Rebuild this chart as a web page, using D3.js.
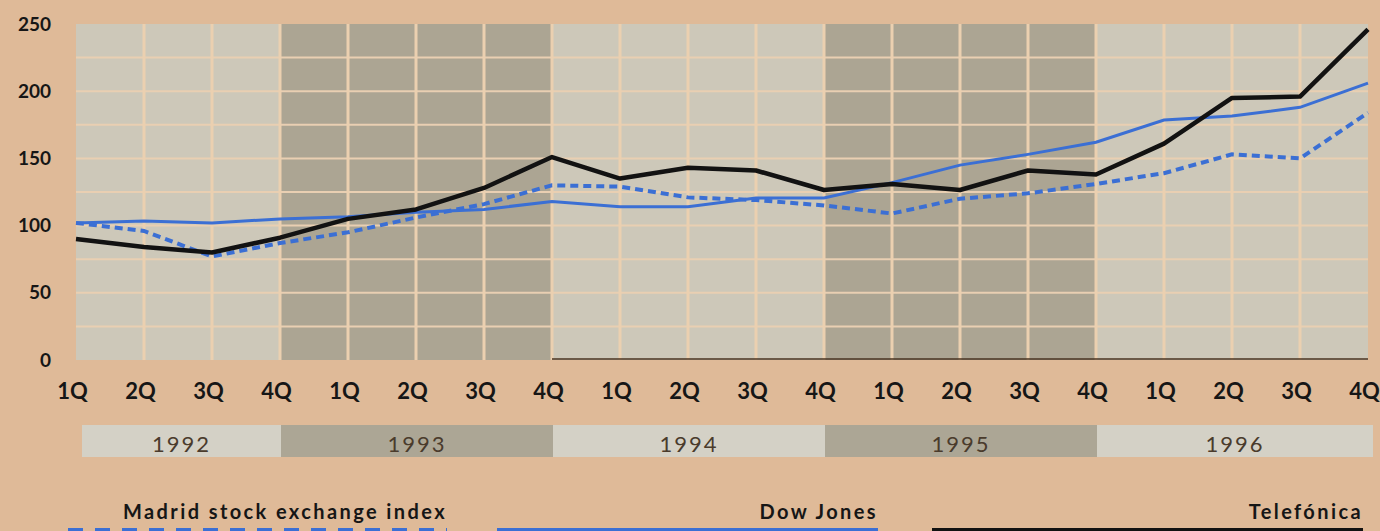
<!DOCTYPE html>
<meta charset="utf-8">
<style>
  body { margin: 0; background: #dfba98; }
  svg { display: block; }
  .tick text { font-family: Lato, sans-serif; font-weight: bold; fill: #161616; }
</style>
<body>
<script src="https://d3js.org/d3.v7.min.js"></script>
<script>

// quarters 1992-1996
var quarters = ["1Q","2Q","3Q","4Q","1Q","2Q","3Q","4Q","1Q","2Q","3Q","4Q","1Q","2Q","3Q","4Q","1Q","2Q","3Q","4Q"];
var years = ["1992", "1993", "1994", "1995", "1996"];

// index values
var madrid     = [102, 96, 77, 87, 95, 106, 116, 130, 129, 121, 119, 115, 109, 120, 124, 131, 139, 153, 150, 184];
var dowJones   = [102, 103.5, 102, 105, 106.5, 110, 112, 118, 114, 114, 120.5, 120.5, 132, 145, 153, 162, 178.5, 181.5, 188, 206];
var telefonica = [90, 84, 80, 91, 105, 112, 128, 151, 135, 143, 141, 126.5, 131, 126.5, 141, 138, 161, 195, 196, 246];

var yTicks = [0, 50, 100, 150, 200, 250];

var width = 1380, height = 531;

var svg = d3.select("body").append("svg")
    .attr("width", width)
    .attr("height", height);

var x = d3.scalePoint().domain(d3.range(quarters.length)).range([76, 1368]);
var y = d3.scaleLinear().domain([0, 250]).range([360, 24]);

// year bands behind the plot (first band only has 3 intervals)
var edges = [0, 3, 7, 11, 15, 19];
var bandColor = ["#cdc8b9", "#aca593", "#cdc8b9", "#aca593", "#cdc8b9"];

svg.append("g").selectAll("rect")
    .data(years)
  .enter().append("rect")
    .attr("x", function(d, i) { return x(edges[i]); })
    .attr("y", y(250))
    .attr("width", function(d, i) { return x(edges[i + 1]) - x(edges[i]); })
    .attr("height", y(0) - y(250))
    .attr("fill", function(d, i) { return bandColor[i]; });

// grid
svg.append("g").selectAll("line")
    .data(d3.range(25, 250, 25))
  .enter().append("line")
    .attr("x1", x(0)).attr("x2", x(19))
    .attr("y1", function(d) { return y(d); })
    .attr("y2", function(d) { return y(d); })
    .attr("stroke", "#e9cfb2")
    .attr("stroke-width", 2);

svg.append("g").selectAll("line")
    .data(d3.range(1, 19))
  .enter().append("line")
    .attr("x1", function(d) { return x(d); })
    .attr("x2", function(d) { return x(d); })
    .attr("y1", y(250)).attr("y2", y(0))
    .attr("stroke", "#ebd0b0")
    .attr("stroke-width", 3);

// dark baseline on the right part
svg.append("line")
    .attr("x1", x(7)).attr("x2", x(19))
    .attr("y1", y(0) - 1).attr("y2", y(0) - 1)
    .attr("stroke", "#4a3522")
    .attr("stroke-width", 1.5);

// axes
var yAxis = svg.append("g")
    .attr("transform", "translate(76,0)")
    .call(d3.axisLeft(y).tickValues(yTicks).tickSize(0).tickPadding(25));
yAxis.select(".domain").remove();
yAxis.selectAll("text").style("font-size", "19px");

var xAxis = svg.append("g")
    .attr("transform", "translate(-4," + y(0) + ")")
    .call(d3.axisBottom(x).tickSize(0).tickPadding(23).tickFormat(function(d) { return quarters[d]; }));
xAxis.select(".domain").remove();
xAxis.selectAll("text").style("font-size", "22px");

// lines
var line = d3.line()
    .x(function(d, i) { return x(i); })
    .y(function(d) { return y(d); });

svg.append("path")
    .datum(madrid)
    .attr("d", line)
    .attr("fill", "none")
    .attr("stroke", "#3b6fd4")
    .attr("stroke-width", 4)
    .attr("stroke-dasharray", "8,5");

svg.append("path")
    .datum(dowJones)
    .attr("d", line)
    .attr("fill", "none")
    .attr("stroke", "#3b6fd4")
    .attr("stroke-width", 3);

svg.append("path")
    .datum(telefonica)
    .attr("d", line)
    .attr("fill", "none")
    .attr("stroke", "#121212")
    .attr("stroke-width", 4.5)
    .attr("stroke-linejoin", "round");

// year bar
var barEdges = [x(0) + 6, x(3) + 1, x(7) + 1, x(11) + 1, x(15) + 1, x(19) + 5];
var barColor = ["#d4d1c6", "#aca695", "#d4d1c6", "#aca695", "#d4d1c6"];
var bar = svg.append("g");
bar.selectAll("rect")
    .data(years)
  .enter().append("rect")
    .attr("x", function(d, i) { return barEdges[i]; })
    .attr("y", 425)
    .attr("width", function(d, i) { return barEdges[i + 1] - barEdges[i]; })
    .attr("height", 32)
    .attr("fill", function(d, i) { return barColor[i]; });
bar.selectAll("text")
    .data(years)
  .enter().append("text")
    .attr("x", function(d, i) { return (barEdges[i] + barEdges[i + 1]) / 2; })
    .attr("y", 452)
    .attr("text-anchor", "middle")
    .style("font-family", "Lato, sans-serif")
    .style("font-size", "22px")
    .style("letter-spacing", "2px")
    .style("fill", "#4a3b2c")
    .text(function(d) { return d; });

// legend
var legend = [
  {name: "Madrid stock exchange index", x1: 68, x2: 447, color: "#3b6fd4", dash: "15,12"},
  {name: "Dow Jones", x1: 497, x2: 878, color: "#3b6fd4", dash: null},
  {name: "Telefónica", x1: 932, x2: 1363, color: "#121212", dash: null}
];

var lg = svg.append("g").selectAll("g")
    .data(legend)
  .enter().append("g");

lg.append("text")
    .attr("x", function(d) { return d.x2; })
    .attr("y", 519)
    .attr("text-anchor", "end")
    .style("font-family", "Lato, sans-serif")
    .style("font-weight", "bold")
    .style("font-size", "20px")
    .style("letter-spacing", "2.4px")
    .style("fill", "#161616")
    .text(function(d) { return d.name; });

lg.append("line")
    .attr("x1", function(d) { return d.x1; })
    .attr("x2", function(d) { return d.x2; })
    .attr("y1", 531).attr("y2", 531)
    .attr("stroke", function(d) { return d.color; })
    .attr("stroke-width", 6)
    .attr("stroke-dasharray", function(d) { return d.dash; });

</script>
</body>
